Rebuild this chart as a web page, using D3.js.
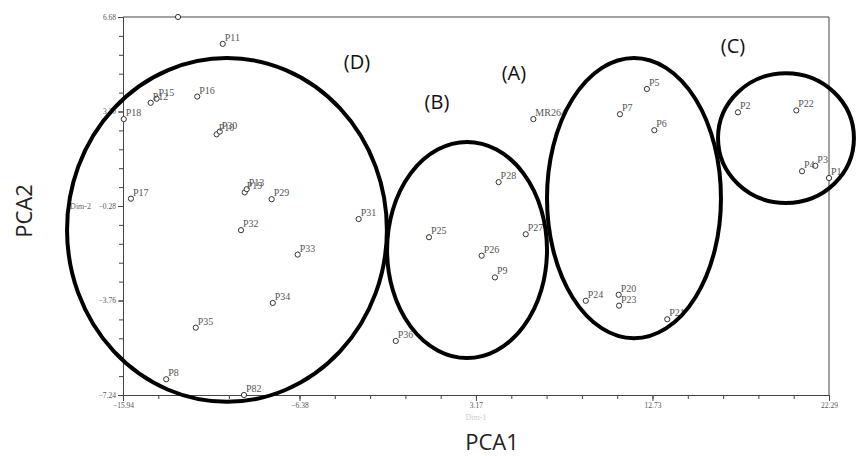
<!DOCTYPE html>
<html>
<head>
<meta charset="utf-8">
<script src="https://cdn.jsdelivr.net/npm/d3@7"></script>
<style>
body { margin:0; background:#fff; }
</style>
</head>
<body>
<div id="chart"></div>
<script>
// PCA scores
var names = ["P1","P2","P3","P4","P22","P5","P7","P6","P24","P20","P23","P21",
             "MR264","P28","P25","P27","P26","P9","P36","P31","P11","P15","P12",
             "P16","P18","P10","P30","P19","P13","P29","P17","P32","P33","P34",
             "P35","P8","P82",""];
var pca1 = [22.29,17.36,21.55,20.83,20.52,12.43,10.97,12.83,9.12,10.90,10.92,13.53,
            6.28,4.40,0.63,5.87,3.48,4.20,-1.17,-3.18,-10.54,-14.12,-14.44,
            -11.92,-15.90,-10.87,-10.70,-9.35,-9.24,-7.89,-15.51,-9.55,-6.48,-7.83,
            -12.00,-13.60,-9.39,-12.96];
var pca2 = [0.75,3.17,1.20,1.00,3.24,4.03,3.10,2.51,-3.77,-3.55,-3.95,-4.45,
            2.92,0.60,-1.43,-1.32,-2.11,-2.91,-5.25,-0.76,5.69,3.67,3.52,
            3.75,2.92,2.36,2.46,0.22,0.34,-0.03,-0.01,-1.17,-2.07,-3.85,
            -4.76,-6.66,-7.24,6.68];

var xTicks = [-15.94,-6.38,3.17,12.73,22.29];
var yTicks = [-7.24,-3.76,-0.28,3.20,6.68];

// cluster ellipses (centre and radii in PCA units)
var groups  = ["(D)","(B)","(A)","(C)"];
var grpCx   = [-10.31, 2.69, 11.73, 19.96];
var grpCy   = [-1.16, -1.90, 0.01, 2.22];
var grpRx   = [8.66, 4.33, 4.71, 3.68];
var grpRy   = [6.33, 3.98, 5.16, 2.39];
var lblX    = [-3.27, 1.06, 5.23, 17.09];
var lblY    = [4.95, 3.48, 4.54, 5.54];

(function(){

var w = 857, h = 456;
var pLeft = 123, pRight = 829, pTop = 17, pBottom = 395;

var svg = d3.select("#chart").append("svg")
    .attr("width", w).attr("height", h);

var x = d3.scaleLinear().domain([xTicks[0], xTicks[4]]).range([pLeft, pRight]);
var y = d3.scaleLinear().domain([yTicks[0], yTicks[4]]).range([pBottom, pTop]);

// minor ticks: five per labelled interval
var xMinor = d3.range(21).map(function(i){ return xTicks[0] + i*(xTicks[4]-xTicks[0])/20; });
var yMinor = d3.range(21).map(function(i){ return yTicks[0] + i*(yTicks[4]-yTicks[0])/20; });

var tickFont = "'Liberation Serif', serif";

svg.append("g").attr("transform", "translate(0," + pBottom + ")")
    .call(d3.axisBottom(x).tickValues(xMinor).tickSize(4).tickFormat(""));
svg.append("g").attr("transform", "translate(0," + pBottom + ")")
    .call(d3.axisBottom(x).tickValues(xTicks).tickSize(6).tickPadding(2)
          .tickFormat(d3.format(".2f")))
    .call(function(g){ g.select(".domain").remove(); });

svg.append("g").attr("transform", "translate(" + pLeft + ",0)")
    .call(d3.axisLeft(y).tickValues(yMinor).tickSize(4).tickFormat(""));
svg.append("g").attr("transform", "translate(" + pLeft + ",0)")
    .call(d3.axisLeft(y).tickValues(yTicks).tickSize(5).tickPadding(2)
          .tickFormat(d3.format(".2f")))
    .call(function(g){ g.select(".domain").remove(); });

svg.selectAll(".domain, .tick line").attr("stroke", "#444");
svg.selectAll(".tick text").attr("fill", "#555")
    .style("font-family", tickFont).style("font-size", "7.5px");

// top and right frame lines
svg.append("line").attr("x1", pLeft).attr("x2", pRight).attr("y1", pTop).attr("y2", pTop)
    .attr("stroke", "#444");
svg.append("line").attr("x1", pRight).attr("x2", pRight).attr("y1", pTop).attr("y2", pBottom)
    .attr("stroke", "#444");

// faint original axis titles
svg.append("text").attr("x", pLeft - 32).attr("y", y(-0.28) + 3)
    .attr("text-anchor", "end").attr("fill", "#666")
    .style("font-family", tickFont).style("font-size", "8px").text("Dim-2");
svg.append("text").attr("x", x(3.17)).attr("y", 420)
    .attr("text-anchor", "middle").attr("fill", "#ccc")
    .style("font-family", tickFont).style("font-size", "8px").text("Dim-1");

// points
svg.selectAll("circle.pt").data(pca1).enter().append("circle")
    .attr("class", "pt")
    .attr("cx", function(d){ return x(d); })
    .attr("cy", function(d, i){ return y(pca2[i]); })
    .attr("r", 2.6)
    .attr("fill", "#fff").attr("stroke", "#333").attr("stroke-width", 1);

svg.selectAll("text.lbl").data(names).enter().append("text")
    .attr("class", "lbl")
    .attr("x", function(d, i){ return x(pca1[i]) + 2; })
    .attr("y", function(d, i){ return y(pca2[i]) - 3; })
    .attr("fill", "#555")
    .style("font-family", tickFont).style("font-size", "10px")
    .text(function(d){ return d; });

// cluster ellipses
svg.selectAll("ellipse").data(groups).enter().append("ellipse")
    .attr("cx", function(d, i){ return x(grpCx[i]); })
    .attr("cy", function(d, i){ return y(grpCy[i]); })
    .attr("rx", function(d, i){ return x(grpCx[i] + grpRx[i]) - x(grpCx[i]); })
    .attr("ry", function(d, i){ return y(grpCy[i]) - y(grpCy[i] + grpRy[i]); })
    .attr("fill", "none").attr("stroke", "#000").attr("stroke-width", 4);

svg.selectAll("text.grp").data(groups).enter().append("text")
    .attr("class", "grp")
    .attr("x", function(d, i){ return x(lblX[i]); })
    .attr("y", function(d, i){ return y(lblY[i]); })
    .attr("text-anchor", "middle").attr("dominant-baseline", "middle")
    .attr("fill", "#111")
    .style("font-family", "'Open Sans', sans-serif").style("font-size", "20px")
    .text(function(d){ return d; });

// axis titles
svg.append("text").attr("x", 492).attr("y", 450).attr("text-anchor", "middle")
    .attr("fill", "#222").style("font-family", "'Open Sans', sans-serif")
    .style("font-size", "22px").text("PCA1");
svg.append("text").attr("transform", "translate(32,211) rotate(-90)")
    .attr("text-anchor", "middle").attr("fill", "#222")
    .style("font-family", "'Open Sans', sans-serif")
    .style("font-size", "22px").text("PCA2");

})();
</script>
</body>
</html>
